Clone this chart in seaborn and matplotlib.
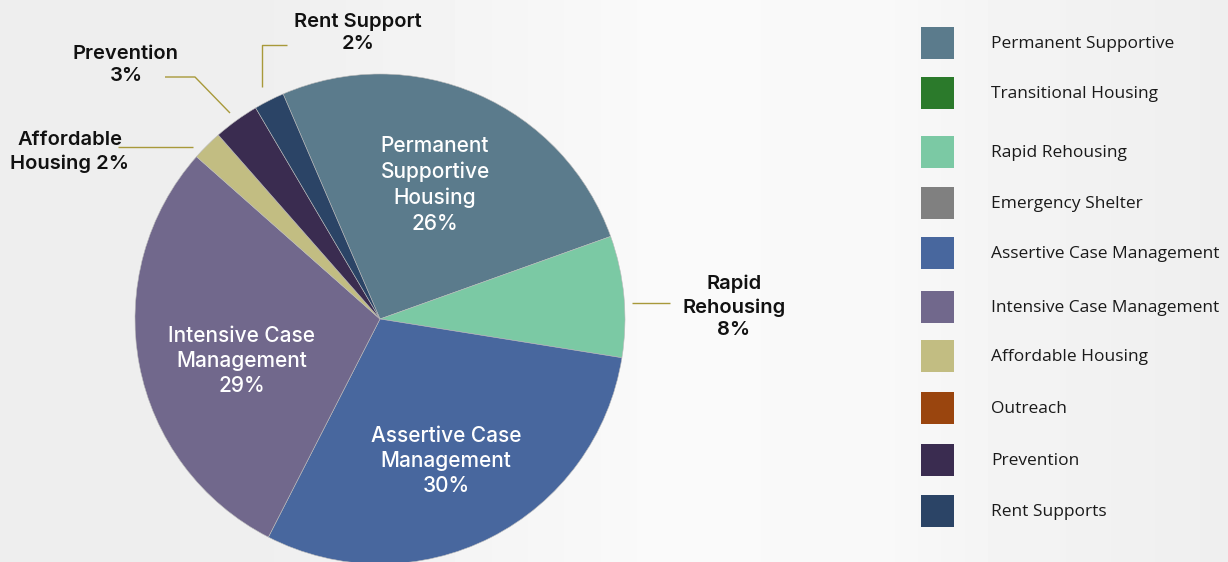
import numpy as np
import matplotlib
matplotlib.use("Agg")
import matplotlib.pyplot as plt
from matplotlib.patches import Rectangle
import seaborn as sns

# ---- data ----
categories = ["Permanent Supportive", "Transitional Housing", "Rapid Rehousing",
              "Emergency Shelter", "Assertive Case Management",
              "Intensive Case Management", "Affordable Housing", "Outreach",
              "Prevention", "Rent Supports"]
values = [26, 0, 8, 0, 30, 29, 2, 0, 3, 2]
colors = ["#5B7B8C", "#2B7A2B", "#7BC9A4", "#808080", "#48679E",
          "#71688C", "#C2BD82", "#9A450E", "#3A2C50", "#2B4466"]
inner_labels = {"Permanent Supportive": "Permanent\nSupportive\nHousing\n26%",
                "Assertive Case Management": "Assertive Case\nManagement\n30%",
                "Intensive Case Management": "Intensive Case\nManagement\n29%"}
outer_labels = {"Rapid Rehousing": "Rapid\nRehousing\n8%",
                "Affordable Housing": "Affordable\nHousing 2%",
                "Prevention": "Prevention\n3%",
                "Rent Supports": "Rent Support\n2%"}

sns.set_theme(style="white")
plt.rcParams["font.family"] = ["Inter", "DejaVu Sans"]

W, H = 1228, 562
fig = plt.figure(figsize=(W / 100, H / 100), dpi=100)

# background gradient
bg = fig.add_axes([0, 0, 1, 1], zorder=0)
xs = np.arange(W)
g = np.interp(xs, [0, 250, 650, 880, 1000, 1228], [0.93, 0.935, 0.978, 0.975, 0.955, 0.935])
img = np.repeat(g[None, :], 2, axis=0)
bg.imshow(img, cmap="gray", vmin=0, vmax=1, aspect="auto", extent=[0, W, 0, H])
bg.set_axis_off()

ax = fig.add_axes([0, 0, 1, 1], zorder=1)
ax.patch.set_alpha(0)

cx, cy, R = 380, H - 319, 245
nz = [i for i, v in enumerate(values) if v > 0]
pv = [values[i] for i in nz]
pc = [colors[i] for i in nz]
wedges, _ = ax.pie(pv, colors=pc, startangle=113.3, counterclock=False,
                   center=(cx, cy), radius=R, frame=True,
                   wedgeprops=dict(linewidth=0.4, edgecolor="#bbbbbb"))
ax.set_xlim(0, W)
ax.set_ylim(0, H)
ax.set_axis_off()

# inner labels (layout positions in pixel coords, y from top)
inner_pos = {"Permanent Supportive": (435, 185),
             "Assertive Case Management": (446, 461),
             "Intensive Case Management": (242, 361)}
for name, txt in inner_labels.items():
    x, y = inner_pos[name]
    ax.text(x, H - y, txt, color="white", ha="center", va="center",
            fontsize=15, fontweight="medium", linespacing=1.33)

outer_pos = {"Rapid Rehousing": (734, 307),
             "Affordable Housing": (70, 152),
             "Prevention": (126, 65),
             "Rent Supports": (358, 33)}
for name, txt in outer_labels.items():
    x, y = outer_pos[name]
    ax.text(x, H - y, txt, color="#111111", ha="center", va="center",
            fontsize=14.5, fontweight="semibold", linespacing=1.33)

# leader lines
gold = "#A8993A"
leaders = [[(632, 303), (670, 303)],
           [(193, 147), (118, 147)],
           [(230, 113), (195, 77), (165, 77)],
           [(262, 87), (262, 45), (287, 45)]]
for pts in leaders:
    px = [p[0] for p in pts]
    py = [H - p[1] for p in pts]
    ax.plot(px, py, color=gold, lw=1.0, solid_capstyle="butt")

# legend
leg_y = [43, 93, 152, 203, 253, 307, 356, 408, 460, 511]
for name, col, y in zip(categories, colors, leg_y):
    ax.add_patch(Rectangle((921, H - y - 16), 33, 32, facecolor=col, edgecolor="none"))
    ax.text(991, H - y - 1, name, ha="left", va="center", fontsize=12.5,
            color="#1a1a1a", family=["Open Sans", "DejaVu Sans"])

fig.savefig("out.png", dpi=100)
